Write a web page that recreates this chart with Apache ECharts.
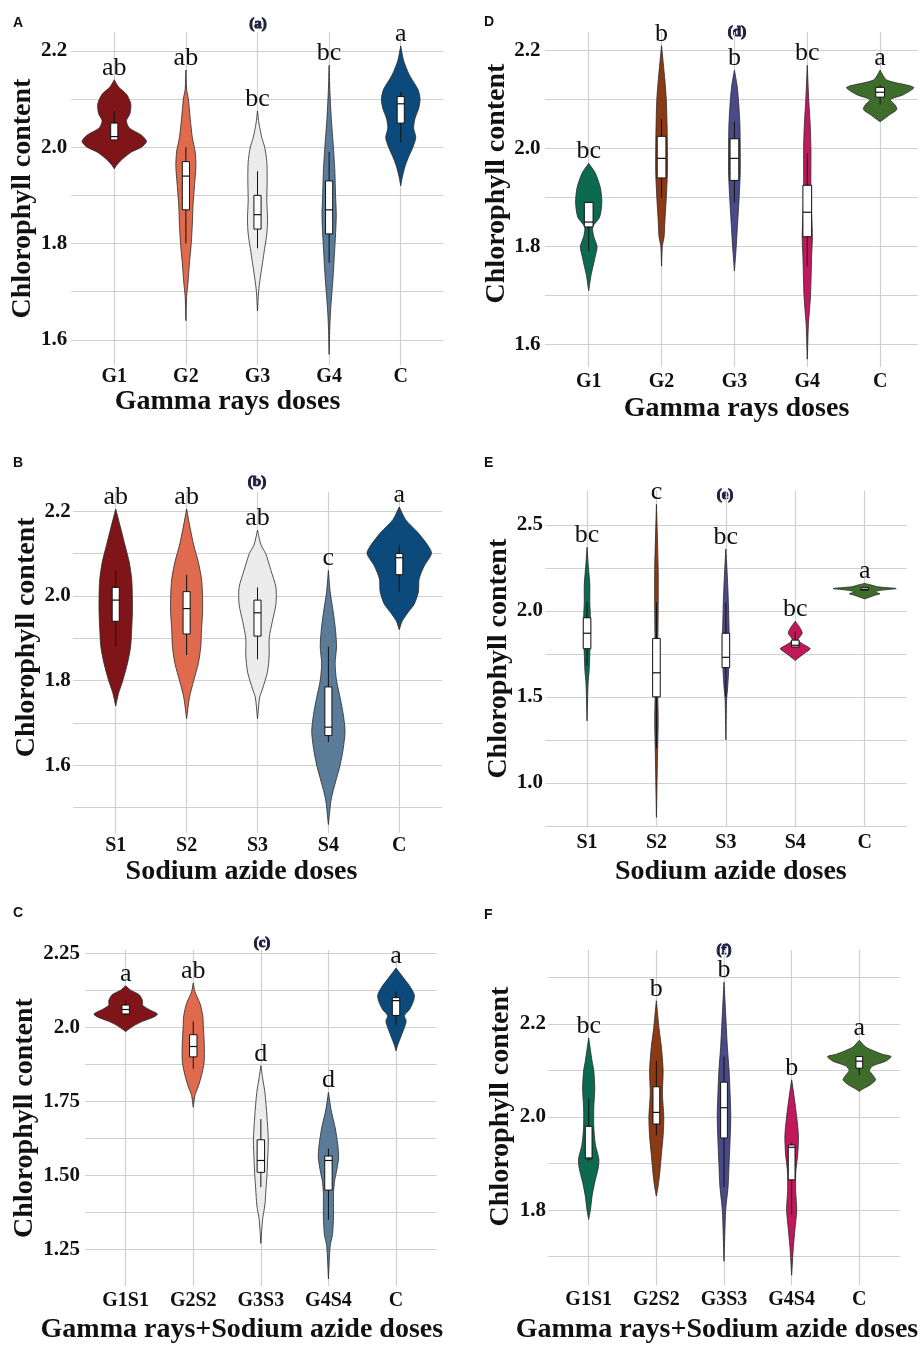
<!DOCTYPE html>
<html>
<head>
<meta charset="utf-8">
<script src="https://cdn.jsdelivr.net/npm/echarts@6/dist/echarts.min.js"></script>
<style>
  html, body { margin: 0; padding: 0; background: #fff; }
  #chart { width: 924px; height: 1345px; }
</style>
</head>
<body>
<div id="chart"></div>
<script>
// ---- categories ----
const catsGamma = ['G1', 'G2', 'G3', 'G4', 'C']
const catsAzide = ['S1', 'S2', 'S3', 'S4', 'C']
const catsCombo = ['G1S1', 'G2S2', 'G3S3', 'G4S4', 'C']

// ---- significance letters ----
const lettersA = ['ab', 'ab', 'bc', 'bc', 'a']
const lettersB = ['ab', 'ab', 'ab', 'c', 'a']
const lettersC = ['a', 'ab', 'd', 'd', 'a']
const lettersD = ['bc', 'b', 'b', 'bc', 'a']
const lettersE = ['bc', 'c', 'bc', 'bc', 'a']
const lettersF = ['bc', 'b', 'b', 'b', 'a']

// ---- box stats: [low whisker, q1, median, q3, high whisker] ----
const boxesA = [[2.015, 2.015, 2.022, 2.05, 2.075], [1.80, 1.87, 1.94, 1.97, 2.0], [1.79, 1.83, 1.86, 1.90, 1.95], [1.76, 1.82, 1.87, 1.93, 1.99], [2.01, 2.05, 2.09, 2.105, 2.115]]
const boxesB = [[1.88, 1.94, 1.99, 2.02, 2.06], [1.86, 1.91, 1.97, 2.01, 2.05], [1.85, 1.905, 1.96, 1.99, 2.02], [1.655, 1.67, 1.69, 1.785, 1.88], [2.01, 2.05, 2.09, 2.10, 2.12]]
const boxesC = [[2.04, 2.045, 2.06, 2.075, 2.09], [1.86, 1.90, 1.935, 1.975, 2.02], [1.46, 1.51, 1.55, 1.62, 1.69], [1.35, 1.45, 1.55, 1.565, 1.59], [2.01, 2.04, 2.09, 2.10, 2.12]]
const boxesD = [[1.79, 1.84, 1.85, 1.89, 1.89], [1.90, 1.94, 1.98, 2.025, 2.06], [1.89, 1.935, 1.98, 2.02, 2.055], [1.76, 1.82, 1.87, 1.925, 1.99], [2.09, 2.105, 2.115, 2.125, 2.13]]
const boxesE = [[1.68, 1.78, 1.87, 1.96, 2.05], [1.2, 1.50, 1.64, 1.84, 2.05], [1.5, 1.67, 1.73, 1.87, 2.05], [1.79, 1.79, 1.80, 1.83, 1.88], [2.12, 2.12, 2.125, 2.135, 2.135]]
const boxesF = [[1.905, 1.91, 1.912, 1.98, 2.04], [1.96, 1.985, 2.01, 2.065, 2.12], [1.85, 1.955, 2.02, 2.075, 2.13], [1.79, 1.865, 1.935, 1.94, 1.945], [2.09, 2.105, 2.12, 2.13, 2.13]]

// ---- violin density profiles: [value, half width (in category units)], top to bottom ----
const shapesA = [
  [[2.14, 0], [2.125, 0.06], [2.11, 0.17], [2.09, 0.23], [2.07, 0.22], [2.055, 0.17], [2.04, 0.21], [2.025, 0.38], [2.012, 0.45], [2.0, 0.38], [1.99, 0.24], [1.975, 0.11], [1.962, 0.03], [1.955, 0]],
  [[2.16, 0], [2.12, 0.01], [2.10, 0.035], [2.06, 0.06], [2.02, 0.09], [1.99, 0.13], [1.96, 0.14], [1.92, 0.12], [1.88, 0.10], [1.84, 0.09], [1.80, 0.075], [1.76, 0.05], [1.72, 0.03], [1.69, 0.01], [1.64, 0]],
  [[2.075, 0], [2.05, 0.02], [2.02, 0.06], [2.0, 0.10], [1.97, 0.13], [1.93, 0.135], [1.89, 0.13], [1.85, 0.14], [1.82, 0.13], [1.79, 0.10], [1.76, 0.07], [1.73, 0.04], [1.70, 0.015], [1.66, 0]],
  [[2.17, 0], [2.12, 0.01], [2.06, 0.03], [2.0, 0.06], [1.95, 0.08], [1.90, 0.09], [1.86, 0.10], [1.82, 0.09], [1.78, 0.075], [1.74, 0.06], [1.70, 0.04], [1.66, 0.02], [1.62, 0.008], [1.57, 0]],
  [[2.21, 0], [2.18, 0.04], [2.15, 0.12], [2.12, 0.24], [2.10, 0.27], [2.08, 0.25], [2.06, 0.20], [2.04, 0.18], [2.02, 0.21], [2.0, 0.17], [1.98, 0.11], [1.96, 0.06], [1.94, 0.025], [1.92, 0]]
]
const shapesB = [
  [[2.205, 0], [2.16, 0.07], [2.12, 0.13], [2.08, 0.19], [2.04, 0.225], [2.0, 0.235], [1.96, 0.235], [1.92, 0.225], [1.88, 0.21], [1.84, 0.165], [1.80, 0.10], [1.77, 0.04], [1.74, 0]],
  [[2.205, 0], [2.16, 0.05], [2.12, 0.10], [2.08, 0.165], [2.04, 0.21], [2.0, 0.225], [1.96, 0.225], [1.92, 0.21], [1.88, 0.20], [1.84, 0.165], [1.80, 0.10], [1.76, 0.04], [1.71, 0]],
  [[2.155, 0], [2.12, 0.05], [2.10, 0.115], [2.06, 0.19], [2.02, 0.26], [1.98, 0.26], [1.94, 0.21], [1.90, 0.165], [1.86, 0.165], [1.82, 0.14], [1.78, 0.07], [1.76, 0.03], [1.71, 0]],
  [[2.06, 0], [2.01, 0.025], [1.96, 0.07], [1.92, 0.10], [1.88, 0.115], [1.84, 0.095], [1.80, 0.115], [1.76, 0.165], [1.72, 0.21], [1.68, 0.235], [1.64, 0.21], [1.60, 0.165], [1.56, 0.10], [1.52, 0.04], [1.46, 0]],
  [[2.21, 0], [2.18, 0.09], [2.15, 0.26], [2.12, 0.40], [2.10, 0.455], [2.07, 0.35], [2.04, 0.28], [2.01, 0.27], [1.98, 0.21], [1.96, 0.12], [1.94, 0.04], [1.92, 0]]
]
const shapesC = [
  [[2.14, 0], [2.125, 0.075], [2.11, 0.2], [2.09, 0.25], [2.075, 0.25], [2.06, 0.345], [2.045, 0.47], [2.035, 0.42], [2.02, 0.25], [2.005, 0.12], [1.99, 0.025], [1.985, 0]],
  [[2.15, 0], [2.12, 0.025], [2.08, 0.10], [2.04, 0.14], [2.0, 0.15], [1.96, 0.16], [1.92, 0.165], [1.88, 0.16], [1.84, 0.125], [1.80, 0.075], [1.77, 0.025], [1.73, 0]],
  [[1.87, 0], [1.83, 0.025], [1.78, 0.06], [1.70, 0.09], [1.62, 0.11], [1.55, 0.10], [1.50, 0.09], [1.45, 0.075], [1.40, 0.06], [1.35, 0.025], [1.27, 0]],
  [[1.78, 0], [1.72, 0.04], [1.66, 0.10], [1.60, 0.14], [1.56, 0.15], [1.52, 0.125], [1.48, 0.09], [1.44, 0.075], [1.40, 0.075], [1.36, 0.075], [1.30, 0.06], [1.26, 0.025], [1.15, 0]],
  [[2.20, 0], [2.17, 0.10], [2.14, 0.20], [2.11, 0.27], [2.09, 0.26], [2.06, 0.20], [2.04, 0.125], [2.02, 0.15], [2.0, 0.125], [1.97, 0.075], [1.94, 0.025], [1.92, 0]]
]
const shapesD = [
  [[1.97, 0], [1.95, 0.09], [1.92, 0.16], [1.89, 0.18], [1.86, 0.15], [1.84, 0.055], [1.82, 0.07], [1.80, 0.115], [1.78, 0.09], [1.76, 0.06], [1.74, 0.03], [1.72, 0.01], [1.71, 0]],
  [[2.21, 0], [2.14, 0.045], [2.10, 0.065], [2.05, 0.075], [2.0, 0.08], [1.95, 0.08], [1.90, 0.065], [1.85, 0.045], [1.82, 0.035], [1.80, 0.01], [1.76, 0]],
  [[2.16, 0], [2.13, 0.035], [2.10, 0.055], [2.05, 0.075], [2.0, 0.08], [1.95, 0.08], [1.90, 0.065], [1.85, 0.045], [1.80, 0.025], [1.75, 0]],
  [[2.17, 0], [2.10, 0.02], [2.05, 0.04], [2.0, 0.05], [1.90, 0.05], [1.82, 0.07], [1.78, 0.06], [1.70, 0.045], [1.66, 0.025], [1.64, 0.015], [1.57, 0]],
  [[2.16, 0], [2.14, 0.09], [2.125, 0.46], [2.11, 0.32], [2.10, 0.14], [2.09, 0.2], [2.08, 0.23], [2.07, 0.14], [2.06, 0.05], [2.055, 0]]
]
const shapesE = [
  [[2.37, 0], [2.28, 0.015], [2.15, 0.04], [2.05, 0.04], [1.95, 0.05], [1.85, 0.05], [1.75, 0.04], [1.65, 0.03], [1.58, 0.015], [1.36, 0]],
  [[2.62, 0], [2.24, 0.025], [2.0, 0.025], [1.8, 0.02], [1.5, 0.02], [1.36, 0.025], [1.15, 0.015], [0.80, 0]],
  [[2.36, 0], [2.25, 0.015], [2.12, 0.03], [2.0, 0.04], [1.8, 0.05], [1.65, 0.04], [1.55, 0.025], [1.48, 0.01], [1.25, 0]],
  [[1.94, 0], [1.90, 0.07], [1.87, 0.10], [1.83, 0.04], [1.80, 0.14], [1.78, 0.215], [1.75, 0.12], [1.72, 0.025], [1.71, 0]],
  [[2.16, 0], [2.15, 0.1], [2.14, 0.19], [2.13, 0.455], [2.12, 0.24], [2.11, 0.14], [2.10, 0.22], [2.09, 0.14], [2.07, 0]]
]
const shapesF = [
  [[2.17, 0], [2.12, 0.05], [2.10, 0.075], [2.06, 0.09], [2.02, 0.075], [1.98, 0.075], [1.94, 0.10], [1.91, 0.15], [1.89, 0.14], [1.86, 0.09], [1.83, 0.05], [1.80, 0.025], [1.78, 0]],
  [[2.25, 0], [2.19, 0.04], [2.15, 0.075], [2.10, 0.10], [2.05, 0.09], [2.0, 0.11], [1.96, 0.10], [1.92, 0.075], [1.88, 0.05], [1.85, 0.025], [1.83, 0]],
  [[2.29, 0], [2.22, 0.025], [2.15, 0.05], [2.10, 0.075], [2.05, 0.09], [2.0, 0.10], [1.95, 0.09], [1.90, 0.075], [1.85, 0.06], [1.80, 0.025], [1.69, 0]],
  [[2.08, 0], [2.04, 0.04], [2.0, 0.075], [1.96, 0.10], [1.92, 0.09], [1.88, 0.06], [1.84, 0.06], [1.80, 0.075], [1.76, 0.05], [1.72, 0.025], [1.66, 0]],
  [[2.165, 0], [2.15, 0.1], [2.135, 0.34], [2.13, 0.47], [2.12, 0.39], [2.11, 0.2], [2.10, 0.15], [2.09, 0.2], [2.08, 0.24], [2.07, 0.17], [2.06, 0.05], [2.055, 0]]
]

// ---- y grid lines and labelled ticks ----
const yGridA = [1.6, 1.7, 1.8, 1.9, 2.0, 2.1, 2.2]
const yLabelsA = ['1.6', '1.8', '2.0', '2.2']
const yGridB = [1.5, 1.6, 1.7, 1.8, 1.9, 2.0, 2.1, 2.2]
const yLabelsB = ['1.6', '1.8', '2.0', '2.2']
const yGridC = [1.125, 1.25, 1.375, 1.5, 1.625, 1.75, 1.875, 2.0, 2.125, 2.25]
const yLabelsC = ['1.25', '1.50', '1.75', '2.0', '2.25']
const yGridD = [1.6, 1.7, 1.8, 1.9, 2.0, 2.1, 2.2]
const yLabelsD = ['1.6', '1.8', '2.0', '2.2']
const yGridE = [0.75, 1.0, 1.25, 1.5, 1.75, 2.0, 2.25, 2.5]
const yLabelsE = ['1.0', '1.5', '2.0', '2.5']
const yGridF = [1.7, 1.8, 1.9, 2.0, 2.1, 2.2, 2.3]
const yLabelsF = ['1.8', '2.0', '2.2']

// ---- colours ----
const leftColors = ['#7f1518', '#e06a4d', '#ececec', '#5b7c99', '#0c4a7c']
const rightColors = ['#0b6a4f', '#8b3a15', '#4a4a88', '#c0185b', '#3e6d2b']

const SERIF = '"Liberation Serif", "Times New Roman", serif'
const SANS = '"Liberation Sans", Arial, sans-serif'
const GRID_COLOR = '#d0d0d0'

// 面板布局
const panels = [
  { tag: 'A', sub: '(a)', cats: catsGamma, letters: lettersA, boxes: boxesA, shapes: shapesA, colors: leftColors,
    yGrid: yGridA, yLabels: yLabelsA, xTitle: 'Gamma rays doses',
    rect: [71.3, 32, 372.4, 333], yRange: [1.548, 2.239], xRange: [0.4, 5.6], boxW: 0.1,
    labelMarginY: 4, labelMarginX: 2, yNameGap: 32, yNamePad: 0, xNameGap: 23, xNameShift: -30,
    tagPos: [13, 16], subPos: [258, 24] },
  { tag: 'B', sub: '(b)', cats: catsAzide, letters: lettersB, boxes: boxesB, shapes: shapesB, colors: leftColors,
    yGrid: yGridB, yLabels: yLabelsB, xTitle: 'Sodium azide doses',
    rect: [73.2, 491.7, 368.6, 341.3], yRange: [1.44, 2.246], xRange: [0.4, 5.6], boxW: 0.1,
    labelMarginY: 2.5, labelMarginX: 3, yNameGap: 30, yNamePad: 25, xNameGap: 25, xNameShift: -16,
    tagPos: [13, 456], subPos: [257, 482] },
  { tag: 'C', sub: '(c)', cats: catsCombo, letters: lettersC, boxes: boxesC, shapes: shapesC, colors: leftColors,
    yGrid: yGridC, yLabels: yLabelsC, xTitle: 'Gamma rays+Sodium azide doses',
    rect: [85.1, 950, 351.5, 336.7], yRange: [1.126, 2.261], xRange: [0.4, 5.6], boxW: 0.11,
    labelMarginY: 5, labelMarginX: 4.5, yNameGap: 46, yNamePad: 0, xNameGap: 30, xNameShift: -19,
    tagPos: [13, 906], subPos: [262, 943] },
  { tag: 'D', sub: '(d)', cats: catsGamma, letters: lettersD, boxes: boxesD, shapes: shapesD, colors: rightColors,
    yGrid: yGridD, yLabels: yLabelsD, xTitle: 'Gamma rays doses',
    rect: [545, 32, 373, 335], yRange: [1.554, 2.238], xRange: [0.4, 5.52], boxW: 0.12,
    labelMarginY: 4.5, labelMarginX: 4.5, yNameGap: 31, yNamePad: 16, xNameGap: 28, xNameShift: 5,
    tagPos: [484, 15], subPos: [737, 32] },
  { tag: 'E', sub: '(e)', cats: catsAzide, letters: lettersE, boxes: boxesE, shapes: shapesE, colors: rightColors,
    yGrid: yGridE, yLabels: yLabelsE, xTitle: 'Sodium azide doses',
    rect: [545.4, 490.7, 360.9, 336], yRange: [0.745, 2.699], xRange: [0.4, 5.6], boxW: 0.11,
    labelMarginY: 2.5, labelMarginX: 6, yNameGap: 30, yNamePad: 0, xNameGap: 31, xNameShift: 5,
    tagPos: [484, 456], subPos: [725, 495] },
  { tag: 'F', sub: '(f)', cats: catsCombo, letters: lettersF, boxes: boxesF, shapes: shapesF, colors: rightColors,
    yGrid: yGridF, yLabels: yLabelsF, xTitle: 'Gamma rays+Sodium azide doses',
    rect: [548.1, 950, 351.8, 336.7], yRange: [1.639, 2.359], xRange: [0.4, 5.6], boxW: 0.1,
    labelMarginY: 2, labelMarginX: 4.5, yNameGap: 33, yNamePad: 11, xNameGap: 31, xNameShift: -7,
    tagPos: [484, 908], subPos: [724, 950] }
]

const chart = echarts.init(document.getElementById('chart'), null, { renderer: 'canvas' })

const grids = []
const xAxes = []
const yAxes = []
const series = []
const graphics = []

// 小提琴 + 箱线 + 显著性字母
const makeRenderItem = (p) => (params, api) => {
  const i = params.dataIndex
  const x = i + 1
  const prof = p.shapes[i]
  const right = prof.map(([v, w]) => api.coord([x + w, v]))
  const left = prof.slice().reverse().map(([v, w]) => api.coord([x - w, v]))
  const [lo, q1, md, q3, hi] = p.boxes[i]
  const hw = p.boxW / 2
  const pLo = api.coord([x, lo])
  const pHi = api.coord([x, hi])
  const tl = api.coord([x - hw, q3])
  const br = api.coord([x + hw, q1])
  const mL = api.coord([x - hw, md])
  const mR = api.coord([x + hw, md])
  const top = api.coord([x, prof[0][0]])
  return {
    type: 'group',
    children: [
      {
        type: 'polygon',
        shape: { points: right.concat(left), smooth: 0.25 },
        style: { fill: p.colors[i], stroke: '#2a2a2a', lineWidth: 0.8 }
      },
      {
        type: 'line',
        shape: { x1: pLo[0], y1: pLo[1], x2: pHi[0], y2: pHi[1] },
        style: { stroke: '#111', lineWidth: 1 }
      },
      {
        type: 'rect',
        shape: { x: tl[0], y: tl[1], width: br[0] - tl[0], height: Math.max(br[1] - tl[1], 1) },
        style: { fill: '#fff', stroke: '#111', lineWidth: 1 }
      },
      {
        type: 'line',
        shape: { x1: mL[0], y1: mL[1], x2: mR[0], y2: mR[1] },
        style: { stroke: '#111', lineWidth: 1.2 }
      },
      {
        type: 'text',
        x: top[0],
        y: top[1] + 1,
        style: {
          text: p.letters[i], fontFamily: SERIF, fontSize: 26, fill: '#111',
          align: 'center', verticalAlign: 'bottom'
        }
      }
    ]
  }
}

panels.forEach((p, k) => {
  grids.push({ left: p.rect[0], top: p.rect[1], width: p.rect[2], height: p.rect[3] })

  const catTicks = p.cats.map((c, i) => i + 1)
  xAxes.push({
    type: 'value', gridIndex: k, min: p.xRange[0], max: p.xRange[1],
    axisLine: { show: false },
    axisTick: { show: false, customValues: catTicks },
    splitLine: { show: true, lineStyle: { color: GRID_COLOR, width: 1.2 } },
    axisLabel: {
      customValues: catTicks,
      formatter: (v) => p.cats[Math.round(v) - 1],
      margin: p.labelMarginX, fontFamily: SERIF, fontWeight: 'bold', fontSize: 20, color: '#111'
    },
    name: p.xTitle, nameLocation: 'middle', nameGap: p.xNameGap,
    nameTextStyle: {
      fontFamily: SERIF, fontWeight: 'bold', fontSize: 28, color: '#111',
      padding: p.xNameShift < 0 ? [0, -2 * p.xNameShift, 0, 0] : [0, 0, 0, 2 * p.xNameShift]
    }
  })

  yAxes.push({
    type: 'value', gridIndex: k, min: p.yRange[0], max: p.yRange[1],
    axisLine: { show: false },
    axisTick: { show: false, customValues: p.yGrid },
    splitLine: { show: true, lineStyle: { color: GRID_COLOR, width: 1.2 } },
    axisLabel: {
      customValues: p.yLabels.map(Number),
      formatter: (v) => p.yLabels.find((s) => Math.abs(Number(s) - v) < 1e-6) || '',
      margin: p.labelMarginY, fontFamily: SERIF, fontWeight: 'bold', fontSize: 21, color: '#111'
    },
    name: 'Chlorophyll content', nameLocation: 'middle', nameGap: p.yNameGap,
    nameTextStyle: {
      fontFamily: SERIF, fontWeight: 'bold', fontSize: 28, color: '#111',
      padding: [0, 0, 0, 2 * p.yNamePad]
    }
  })

  series.push({
    type: 'custom',
    name: p.tag,
    xAxisIndex: k,
    yAxisIndex: k,
    data: p.cats.map((c, i) => [i + 1, p.boxes[i][2]]),
    renderItem: makeRenderItem(p),
    silent: true
  })

  graphics.push({
    type: 'text', left: p.tagPos[0], top: p.tagPos[1],
    style: { text: p.tag, font: 'bold 14px ' + SANS, fill: '#111' }
  })
  graphics.push({
    type: 'text', x: p.subPos[0], y: p.subPos[1],
    style: {
      text: p.sub, font: 'bold 15px ' + SERIF, fill: '#1c2140',
      stroke: '#1c2140', lineWidth: 1, align: 'center', verticalAlign: 'middle'
    }
  })
})

chart.setOption({
  backgroundColor: '#ffffff',
  animation: false,
  grid: grids,
  xAxis: xAxes,
  yAxis: yAxes,
  series: series,
  graphic: graphics
})
</script>
</body>
</html>
